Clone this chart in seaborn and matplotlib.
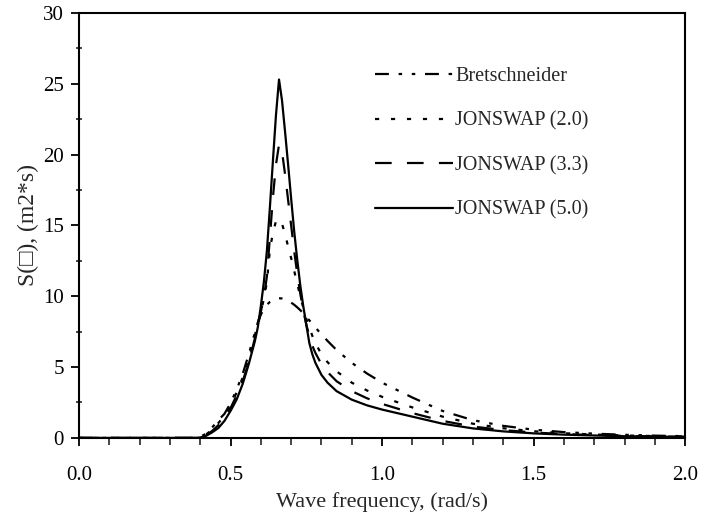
import matplotlib
matplotlib.use('Agg')
import matplotlib.pyplot as plt
from matplotlib.ticker import MultipleLocator
import seaborn as sns

# wave frequency (rad/s)
freq = [0.0, 0.38, 0.40, 0.42, 0.44, 0.46, 0.48, 0.50, 0.52, 0.54, 0.56, 0.58,
        0.59, 0.60, 0.61, 0.62, 0.63, 0.64, 0.65, 0.66, 0.67, 0.68, 0.69, 0.70,
        0.71, 0.72, 0.73, 0.74, 0.75, 0.76, 0.77, 0.78,
        0.80, 0.82, 0.85, 0.90, 0.95, 1.00,
        1.10, 1.20, 1.30, 1.40, 1.50, 1.60, 1.70, 1.80, 1.90, 2.00]

# spectral density S (m2*s)
bretschneider = [0, 0, 0.08, 0.3, 0.75, 1.25, 1.7, 2.45, 3.4, 4.5, 5.9, 7.4,
                 8.15, 8.7, 9.1, 9.4, 9.6, 9.74, 9.83, 9.86, 9.84, 9.78, 9.68, 9.55,
                 9.4, 9.22, 9.02, 8.8, 8.55, 8.3, 8.05, 7.8,
                 7.3, 6.85, 6.2, 5.3, 4.55, 3.9,
                 2.85, 1.9, 1.25, 0.85, 0.58, 0.41, 0.3, 0.22, 0.16, 0.12]
jonswap_20 = [0, 0, 0.06, 0.25, 0.6, 1.05, 1.55, 2.3, 3.2, 4.25, 5.6, 7.2,
              8.1, 8.9, 9.8, 11.0, 13.3, 14.5, 15.3, 15.45, 15.1, 14.4, 13.5, 12.7,
              11.8, 10.9, 10.0, 9.2, 8.4, 7.8, 7.2, 6.7,
              5.9, 5.35, 4.7, 3.9, 3.35, 2.9,
              2.15, 1.5, 1.0, 0.68, 0.47, 0.33, 0.24, 0.17, 0.13, 0.1]
jonswap_33 = [0, 0, 0.05, 0.2, 0.5, 0.9, 1.4, 2.1, 3.0, 4.0, 5.3, 7.0,
              7.9, 8.9, 9.9, 11.4, 14.2, 17.0, 19.3, 20.7, 20.2, 18.6, 16.8, 15.0,
              13.2, 11.6, 10.2, 9.0, 8.0, 7.2, 6.5, 6.0,
              5.2, 4.65, 4.0, 3.3, 2.8, 2.4,
              1.75, 1.2, 0.8, 0.55, 0.38, 0.27, 0.2, 0.14, 0.1, 0.08]
jonswap_50 = [0, 0, 0.03, 0.15, 0.4, 0.7, 1.2, 1.9, 2.7, 3.8, 5.2, 6.8,
              7.8, 9.3, 11.0, 13.2, 16.3, 19.6, 22.8, 25.3, 23.8, 21.6, 19.3, 16.9,
              14.6, 12.6, 10.8, 9.3, 8.0, 6.7, 5.9, 5.3,
              4.45, 3.9, 3.3, 2.7, 2.3, 2.0,
              1.5, 1.0, 0.67, 0.46, 0.32, 0.23, 0.17, 0.12, 0.09, 0.07]

labels = ['Bretschneider', 'JONSWAP (2.0)', 'JONSWAP (3.3)', 'JONSWAP (5.0)']
series = [bretschneider, jonswap_20, jonswap_33, jonswap_50]
styles = [(0, (10, 7, 2.5, 7, 2.5, 7)), (0, (3, 8.5)), (0, (12, 11)), '-']

sns.set_style('ticks')
plt.rcParams['font.family'] = ['Liberation Serif', 'DejaVu Serif']
plt.rcParams['lines.scale_dashes'] = False

fig = plt.figure(figsize=(7.02, 5.17), dpi=100)
ax = fig.add_axes([0.1125, 0.153, 0.8635, 0.822])

for vals, lab, ls in zip(series, labels, styles):
    sns.lineplot(x=freq, y=vals, ax=ax, color='black', linewidth=1.6,
                 linestyle=ls, label=lab, sort=False)

ax.set_xlim(0, 2.0)
ax.set_ylim(0, 30)
ax.xaxis.set_major_locator(MultipleLocator(0.5))
ax.xaxis.set_minor_locator(MultipleLocator(0.1))
ax.yaxis.set_major_locator(MultipleLocator(5))
ax.yaxis.set_minor_locator(MultipleLocator(2.5))
ax.xaxis.set_major_formatter(plt.FormatStrFormatter('%.1f'))

for s in ax.spines.values():
    s.set_visible(True)
    s.set_linewidth(1.5)
    s.set_color('black')

ax.tick_params(axis='x', which='major', direction='out', length=6, width=1.3,
               pad=14, labelsize=15, colors='black')
ax.tick_params(axis='x', which='minor', direction='out', length=5, width=1.2)
ax.tick_params(axis='y', which='major', direction='out', length=6, width=1.3,
               pad=5, labelsize=15, colors='black')
ax.tick_params(axis='y', which='minor', direction='inout', length=5, width=1.2)

ax.set_xlabel('Wave frequency, (rad/s)', fontsize=16, labelpad=5)
ax.set_ylabel('S(\u25a1), (m2*s)', fontsize=17, labelpad=3)

ax.legend(loc='upper left', bbox_to_anchor=(0.488, 0.872), frameon=False,
          fontsize=14.5, handlelength=3.9, handletextpad=0.1, labelspacing=1.25,
          borderpad=0, borderaxespad=0)

fig.savefig('out.png', dpi=100)
